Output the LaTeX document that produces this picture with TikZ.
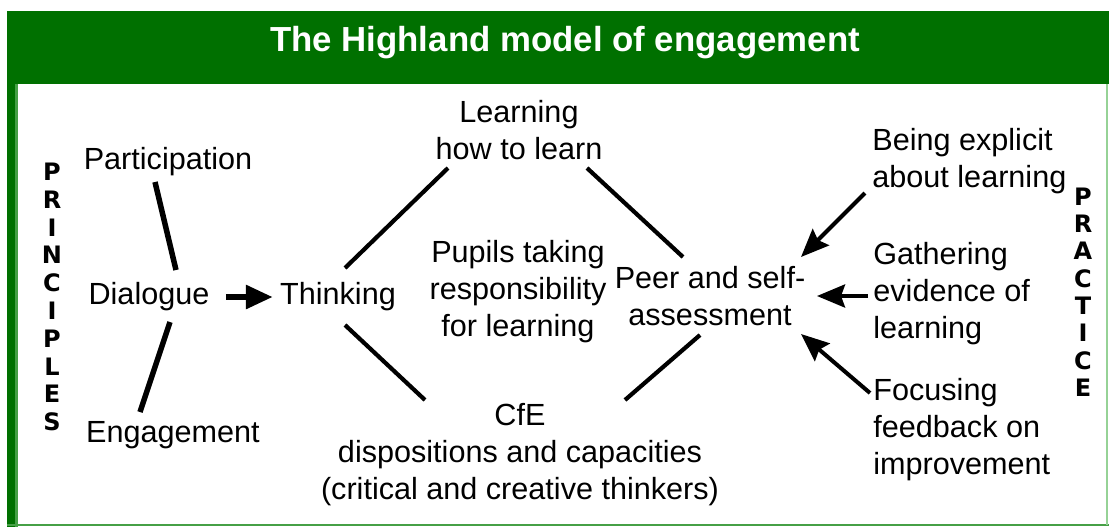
\documentclass[tikz,border=0pt]{standalone}
\usepackage{fontspec}
\setmainfont{Liberation Sans}
\newfontfamily\letterfont{DejaVu Sans Bold}
\usetikzlibrary{calc,arrows.meta}
\definecolor{hgreen}{RGB}{0,112,0}
\definecolor{hlight}{RGB}{70,160,70}
\definecolor{hpale}{RGB}{150,210,150}
\tikzset{
	txt/.style={inner sep=0pt,align=center,font=\fontsize{15.3}{18.5}\selectfont},
	ltxt/.style={txt,align=left,anchor=west},
	vword/.style={inner sep=0pt,align=center,font=\letterfont\fontsize{12}{#1}\selectfont},
	link/.style={line width=2.1pt},
	push/.style={line width=2pt,-{Stealth[length=14pt,width=11.5pt,inset=2pt]}},
}
\begin{document}
\begin{tikzpicture}[x=0.5pt,y=-0.5pt]
			\useasboundingbox (0,0) rectangle (1109,527);
			%FRAME
			\fill[white] (0,0) rectangle (1109,527);
			\fill[hgreen] (7,11) rectangle (1109,84);
			\fill[hgreen] (7,84) rectangle (15,527);
			\fill[hlight] (15,84) rectangle (18,527);
			\draw[hlight,line width=1pt] (7,525) -- (1109,525);
			\draw[hpale,line width=1pt] (1107,84) -- (1107,525);
			\node[inner sep=0pt,text=white,font=\bfseries\fontsize{17.4}{20}\selectfont] (title) at (565,43) {The Highland model of engagement};
			%SIDE WORDS
			\node[vword=13.9pt] (principles) at (52,297) {P\\R\\I\\N\\C\\I\\P\\L\\E\\S};
			\node[vword=13.65pt] (practice) at (1083,292) {P\\R\\A\\C\\T\\I\\C\\E};
			%LEFT
			\node[txt] (part) at (168,162) {Participation};
			\node[txt] (dia) at (149,297) {Dialogue};
			\node[txt] (eng) at (173,435) {Engagement};
			\node[txt] (think) at (338,297) {Thinking};
			%MIDDLE
			\node[txt] (learn) at (519,130) {Learning\\how to learn};
			\node[txt] (pupils) at (518,292) {Pupils taking\\responsibility\\for learning};
			\node[txt] (peer) at (710,296) {Peer and self-\\assessment};
			\node[txt] (cfe) at (520,455) {CfE\\dispositions and capacities\\(critical and creative thinkers)};
			%RIGHT
			\node[ltxt] (expl) at (872,161) {Being explicit\\about learning};
			\node[ltxt] (gather) at (873,294) {Gathering\\evidence of\\learning};
			\node[ltxt] (focus) at (873,430) {Focusing\\feedback on\\improvement};
			%LINKS
			\draw[link,line width=2.75pt] ($(part.center)+(-13,20)$) -- ($(dia.center)+(27,-27)$);
			\draw[link,line width=2.75pt] ($(dia.center)+(21,25)$) -- ($(eng.center)+(-33,-23)$);
			\draw[line width=3pt,-{Triangle[length=13.5pt,width=11.5pt]},shorten <=8pt,shorten >=3.5pt] (dia.east) -- (think.west);
			\draw[link] ($(think.center)+(7,-29)$) -- ($(learn.center)+(-71,38)$);
			\draw[link] ($(learn.center)+(68,38)$) -- ($(peer.center)+(-27,-39)$);
			\draw[link] ($(think.center)+(7,28)$) -- ($(cfe.center)+(-95,-55)$);
			\draw[link] ($(peer.center)+(-10,39)$) -- ($(cfe.center)+(105,-55)$);
			\draw[push] ($(expl.west)+(-7,32)$) -- ($(peer.center)+(91,-39)$);
			\draw[push] ($(gather.west)+(-5,2)$) -- ($(peer.center)+(107,0)$);
			\draw[push] ($(focus.west)+(-3,-37)$) -- ($(peer.center)+(91,38)$);
		\end{tikzpicture}
\end{document}
